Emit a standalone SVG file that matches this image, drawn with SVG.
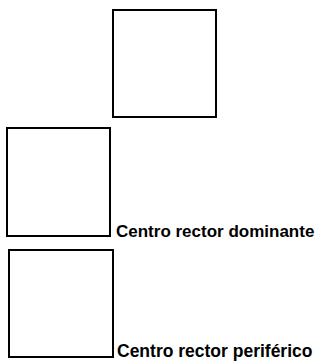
<svg xmlns="http://www.w3.org/2000/svg" width="323" height="363" viewBox="0 0 323 363">
<style>
.box{fill:#fff;stroke:#000;stroke-width:2}
.lbl{font-family:"Liberation Sans",Arial,sans-serif;font-weight:bold;font-size:17px;fill:#000}
</style>
<rect width="323" height="363" fill="#fff"/>
<g id="box-top"><rect class="box" x="113" y="10" width="103" height="107"/></g>
<g id="centro-dominante"><rect class="box" x="7" y="128" width="103" height="108"/><text class="lbl" x="116" y="237">Centro rector dominante</text></g>
<g id="centro-periferico"><rect class="box" x="9" y="250" width="104" height="107"/><text class="lbl" x="117" y="357" style="font-size:17.5px">Centro rector periférico</text></g>
<g id="connectors"/>
</svg>
